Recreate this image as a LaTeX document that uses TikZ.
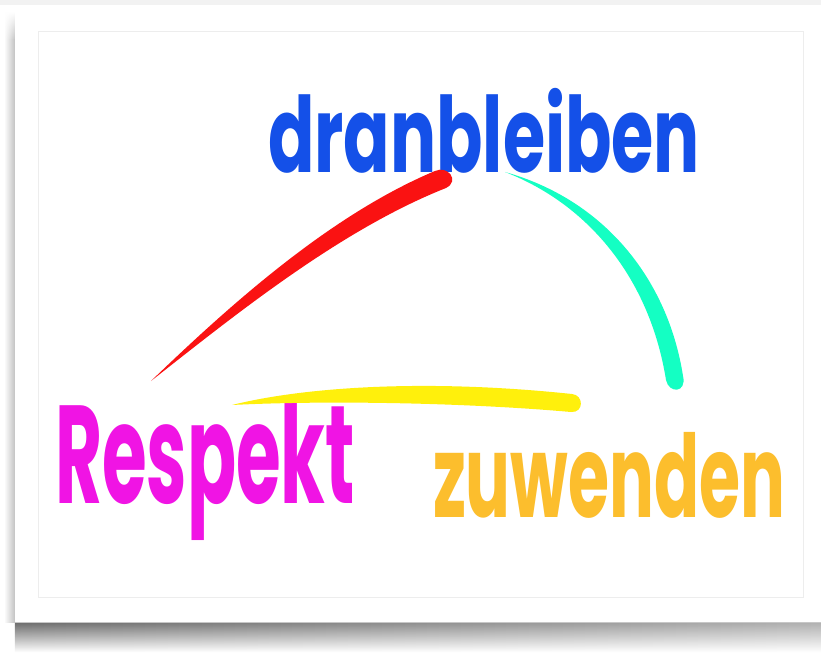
\documentclass[tikz,border=0pt]{standalone}
\usepackage{fontspec}
\setmainfont{Poppins}
\usepackage{graphicx}
\usetikzlibrary{fadings}
\begin{document}
\definecolor{inkblue}{RGB}{20,80,232}
\definecolor{inkmagenta}{RGB}{240,20,228}
\definecolor{inkorange}{RGB}{252,190,45}
\definecolor{inkred}{RGB}{250,18,18}
\definecolor{inkcyan}{RGB}{20,255,195}
\definecolor{inkyellow}{RGB}{255,240,12}
\begin{tikzpicture}[x=1pt,y=-1pt,
  word/.style={inner sep=0pt,outer sep=0pt,anchor=north west}]
\useasboundingbox (0,0) rectangle (821,655);
% paper card with its drop shadow
\fill[white] (0,0) rectangle (821,655);
\fill[black!5] (0,0) rectangle (821,5);
\shade[left color=black!60, right color=black!32, path fading=south]
  (15,621) rectangle (821,652);
\shade[left color=white, right color=black!24, path fading=north]
  (4,12) rectangle (15,40);
\shade[left color=white, right color=black!24] (4,40) rectangle (15,622);
\fill[white] (15,5) rectangle (821,622);
\draw[black!22, line width=0.8pt] (15,622) -- (821,622);
\draw[black!7, line width=0.8pt] (38,31) rectangle (803,597);
% the three words
\node[word, text=inkblue] (top) at (268,88)
  {\resizebox*{432pt}{85pt}{\bfseries dranbleiben}};
\node[word, text=inkmagenta] (left) at (55,400)
  {\resizebox*{300pt}{140pt}{\bfseries Respekt}};
\node[word, text=inkorange] (right) at (433,432)
  {\resizebox*{352pt}{86pt}{\bfseries zuwenden}};
% brush stroke end points
\coordinate (redtip) at (151,381);
\coordinate (cyantip) at (505,172);
\coordinate (yellowtip) at (232,405);
% tapered brush strokes between the words
\fill[inkred] (redtip) .. controls (230,305) and (330,215) .. (435,171)
  .. controls (448,165) and (460,181) .. (446,188)
  .. controls (340,230) and (235,315) .. (redtip) -- cycle;
\fill[inkcyan] (cyantip) .. controls (590,205) and (650,280) .. (666,380)
  .. controls (669,394) and (687,393) .. (683,376)
  .. controls (668,280) and (605,200) .. (cyantip) -- cycle;
\fill[inkyellow] (yellowtip) .. controls (300,388) and (420,378) .. (572,394)
  .. controls (584,395) and (584,413) .. (571,412)
  .. controls (470,403) and (330,400) .. (yellowtip) -- cycle;
\end{tikzpicture}
\end{document}
